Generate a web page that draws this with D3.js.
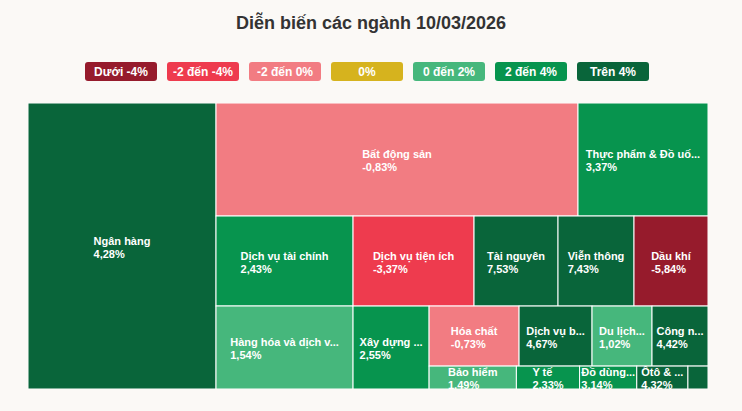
<!DOCTYPE html>
<html>
<head>
<meta charset="utf-8">
<script src="https://cdn.jsdelivr.net/npm/d3@7"></script>
<style>
  html, body { margin: 0; padding: 0; background: #fbf9f6; }
  svg { display: block; }
</style>
</head>
<body>
<svg id="chart" width="742" height="411"></svg>
<script>
// ---- DATA ----
const title = "Diễn biến các ngành 10/03/2026";
const sectors = ["Ngân hàng", "Bất động sản", "Thực phẩm & Đồ uống", "Dịch vụ tài chính",
  "Hàng hóa và dịch vụ công nghiệp", "Dịch vụ tiện ích", "Tài nguyên", "Viễn thông", "Dầu khí",
  "Xây dựng và Vật liệu", "Hóa chất", "Dịch vụ bán lẻ", "Du lịch và Giải trí", "Công nghệ thông tin",
  "Bảo hiểm", "Y tế", "Đồ dùng cá nhân và gia dụng", "Ôtô & phụ tùng", "Truyền thông"];
const shownNames = ["Ngân hàng", "Bất động sản", "Thực phẩm & Đồ uố...", "Dịch vụ tài chính",
  "Hàng hóa và dịch v...", "Dịch vụ tiện ích", "Tài nguyên", "Viễn thông", "Dầu khí",
  "Xây dựng ...", "Hóa chất", "Dịch vụ b...", "Du lịch...", "Công n...",
  "Bảo hiểm", "Y tế", "Đồ dùng...", "Ôtô & ...", ""];
const sizes = [53768, 40906, 14690, 12330, 11371, 10890, 7560, 6840, 6660, 6308,
  5400, 4380, 3600, 3360, 2001, 1449, 1311, 1173, 460];
const changes = [4.28, -0.83, 3.37, 2.43, 1.54, -3.37, 7.53, 7.43, -5.84, 2.55,
  -0.73, 4.67, 1.02, 4.42, 1.49, 2.33, 3.14, 4.32, 4.5];
const legendLabels = ["Dưới -4%", "-2 đến -4%", "-2 đến 0%", "0%", "0 đến 2%", "2 đến 4%", "Trên 4%"];
const legendColors = ["#961b2c", "#ee3b4e", "#f27c82", "#d6b31e", "#46b77c", "#07944e", "#09653a"];

function colorFor(v) {
  if (v < -4) return legendColors[0];
  if (v < -2) return legendColors[1];
  if (v < 0) return legendColors[2];
  if (v === 0) return legendColors[3];
  if (v <= 2) return legendColors[4];
  if (v <= 4) return legendColors[5];
  return legendColors[6];
}
const fmt = v => d3.format(".2f")(v).replace("\u2212", "-").replace(".", ",") + "%";

// ---- LAYOUT ----
const svg = d3.select("#chart");
const W = 742, H = 411;
const plot = { x: 28, y: 103, w: 680, h: 286 };
const font = "'Liberation Sans', Arial, Helvetica, sans-serif";

svg.append("rect").attr("width", W).attr("height", H).attr("fill", "#fbf9f6");

svg.append("text")
  .attr("x", W / 2).attr("y", 29)
  .attr("text-anchor", "middle")
  .attr("font-family", font).attr("font-size", 18).attr("font-weight", "bold")
  .attr("fill", "#333333")
  .text(title);

// Legend
const legendX = d3.scaleBand().domain(legendLabels).range([85, 649]).paddingInner(10 / 82).paddingOuter(0);
const lg = svg.append("g");
legendLabels.forEach((l, i) => {
  const x = legendX(l);
  lg.append("rect").attr("x", x).attr("y", 62).attr("width", legendX.bandwidth()).attr("height", 19)
    .attr("rx", 3).attr("fill", legendColors[i]);
  lg.append("text").attr("x", x + legendX.bandwidth() / 2).attr("y", 76)
    .attr("text-anchor", "middle").attr("font-family", font).attr("font-size", 12)
    .attr("font-weight", "bold").attr("fill", "#ffffff").text(l);
});

// Alternating-direction squarified tiling
function altSquarify(parent, x0, y0, x1, y1) {
  const nodes = parent.children;
  let x = x0, y = y0, w = x1 - x0, h = y1 - y0;
  const k = (w * h) / parent.value;
  const ar = (a, b) => Math.max(a / b, b / a);
  let dir = 0, i = 0;
  while (i < nodes.length) {
    const row = [nodes[i]];
    let sum = nodes[i].value * k; i++;
    while (i < nodes.length) {
      const a = nodes[i].value * k;
      const last = row[row.length - 1].value * k;
      const len = dir === 0 ? h : w;
      const oT = sum / len, nT = (sum + a) / len;
      const oR = ar(oT, last / oT), nR = ar(nT, last / nT);
      if (nR > oR) break;
      row.push(nodes[i]); sum += a; i++;
    }
    if (i >= nodes.length) sum = w * h; // last group fills remaining
    if (dir === 0) {
      const t = sum / h;
      let yy = y;
      const rs = d3.sum(row, d => d.value);
      row.forEach(n => { const hh = h * n.value / rs; n.x0 = x; n.x1 = x + t; n.y0 = yy; n.y1 = yy + hh; yy += hh; });
      x += t; w -= t;
    } else {
      const t = sum / w;
      let xx = x;
      const rs = d3.sum(row, d => d.value);
      row.forEach(n => { const ww = w * n.value / rs; n.y0 = y; n.y1 = y + t; n.x0 = xx; n.x1 = xx + ww; xx += ww; });
      y += t; h -= t;
    }
    dir = 1 - dir;
  }
}

const items = sectors.map((s, i) => ({ name: s, shown: shownNames[i], size: sizes[i], change: changes[i] }));
const root = d3.hierarchy({ children: items })
  .sum(d => d.size || 0)
  .sort((a, b) => b.value - a.value);
d3.treemap().tile(altSquarify).size([plot.w, plot.h]).round(false)(root);

const defs = svg.append("defs");
defs.append("clipPath").attr("id", "plotclip").append("rect")
  .attr("x", 0).attr("y", 0).attr("width", plot.w).attr("height", plot.h);

const g = svg.append("g").attr("transform", `translate(${plot.x},${plot.y})`).attr("clip-path", "url(#plotclip)");
const leaves = root.leaves();

g.selectAll("rect.tile").data(leaves).join("rect")
  .attr("class", "tile")
  .attr("x", d => d.x0).attr("y", d => d.y0)
  .attr("width", d => d.x1 - d.x0).attr("height", d => d.y1 - d.y0)
  .attr("fill", d => colorFor(d.data.change))
  .attr("stroke", "#ffffff").attr("stroke-width", 1);

leaves.forEach((d, i) => {
  defs.append("clipPath").attr("id", "tc" + i).append("rect")
    .attr("x", d.x0).attr("y", d.y0).attr("width", d.x1 - d.x0).attr("height", d.y1 - d.y0);
});

const labels = g.selectAll("g.lbl").data(leaves).join("g")
  .attr("class", "lbl")
  .attr("clip-path", (d, i) => `url(#tc${i})`);

labels.each(function (d) {
  if (!d.data.shown) return;
  const sel = d3.select(this);
  const cx = (d.x0 + d.x1) / 2, cy = (d.y0 + d.y1) / 2;
  const t1 = sel.append("text").attr("y", cy - 1.5).text(d.data.shown);
  const t2 = sel.append("text").attr("y", cy + 11.5).text(fmt(d.data.change));
  sel.selectAll("text").attr("font-family", font).attr("font-size", 11)
    .attr("font-weight", "bold").attr("fill", "#ffffff");
  const wmax = Math.max(t1.node().getComputedTextLength(), t2.node().getComputedTextLength());
  sel.selectAll("text").attr("x", cx - wmax / 2);
});
</script>
</body>
</html>
